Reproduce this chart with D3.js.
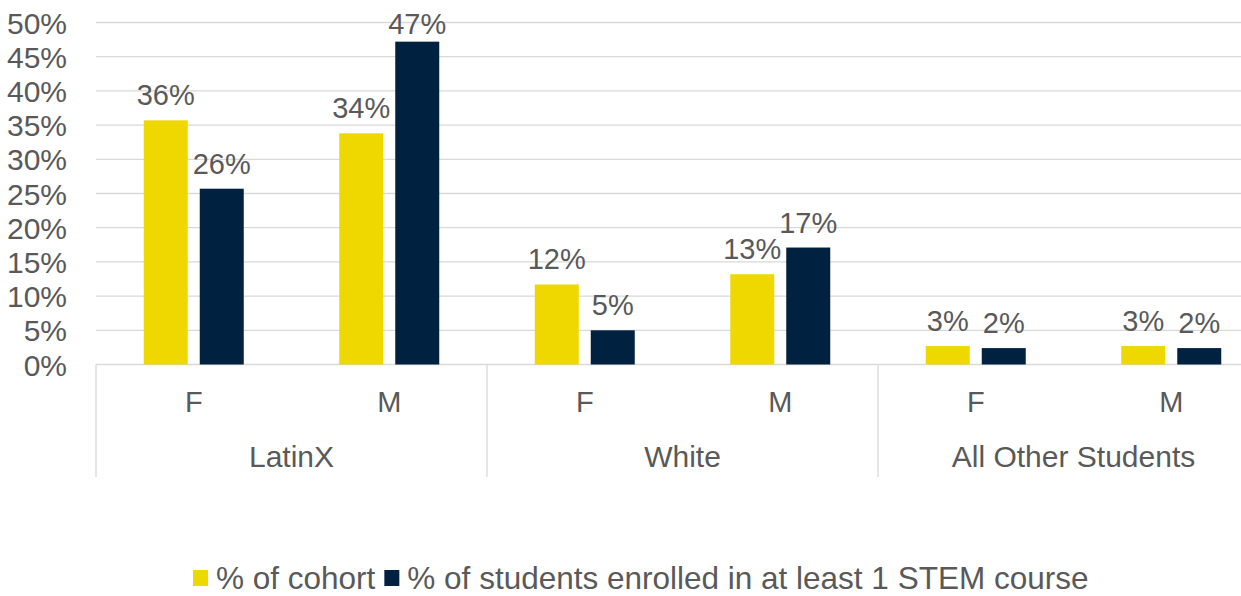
<!DOCTYPE html>
<html><head><meta charset="utf-8">
<script src="https://cdn.jsdelivr.net/npm/d3@7"></script>
<style>
html,body{margin:0;padding:0;background:#fff;}
text{font-family:"Liberation Sans",Arial,sans-serif;fill:#595959;}
</style></head>
<body><svg id="c" width="1241" height="596"></svg>
<script>
const groups = ["LatinX", "White", "All Other Students"];
const genders = ["F", "M"];
const seriesNames = ["% of cohort", "% of students enrolled in at least 1 STEM course"];
const cohort = [0.357, 0.338, 0.117, 0.132, 0.027, 0.027];
const stem   = [0.257, 0.472, 0.050, 0.171, 0.024, 0.024];
const yTicks = [0, 0.05, 0.10, 0.15, 0.20, 0.25, 0.30, 0.35, 0.40, 0.45, 0.50];
const colors = ["#EFD800", "#002240"];

(function () {
const svg = d3.select("#c");
const plotLeft = 96, plotRight = 1269, plotTop = 22.5, base = 364.5;
const y = d3.scaleLinear().domain([0, 0.5]).range([base, plotTop]);
const xg = d3.scaleBand().domain(groups).range([plotLeft, plotRight]);
const xs = d3.scaleBand().domain(genders).range([0, xg.bandwidth()]);
const pairW = 100;
const xser = d3.scaleBand().domain(seriesNames)
  .range([(xs.bandwidth() - pairW) / 2, (xs.bandwidth() + pairW) / 2])
  .paddingInner(12 / 56).paddingOuter(0);

// gridlines
svg.append("g").selectAll("line").data(yTicks).join("line")
  .attr("x1", plotLeft).attr("x2", 1241)
  .attr("y1", d => y(d)).attr("y2", d => y(d))
  .attr("stroke", "#d9d9d9").attr("stroke-width", 1.3);

// y axis labels
const yAxis = d3.axisLeft(y).tickValues(yTicks).tickFormat(d3.format(".0%")).tickSize(0).tickPadding(0);
const ya = svg.append("g").attr("transform", "translate(67,0)").call(yAxis);
ya.select(".domain").remove();
ya.selectAll("text").attr("font-size", 30).attr("fill", "#595959")
  .style("font-family", '"Liberation Sans", Arial, sans-serif').attr("dy", "0.35em");

// rows
const rows = [];
groups.forEach((g, gi) => genders.forEach((s, si) => {
  const i = gi * 2 + si;
  rows.push({g, s, vals: [cohort[i], stem[i]]});
}));

const fmt = d3.format(".0%");
rows.forEach(r => {
  const x0 = xg(r.g) + xs(r.s);
  seriesNames.forEach((sn, k) => {
    const v = r.vals[k];
    const bx = x0 + xser(sn);
    svg.append("rect").attr("x", bx).attr("y", y(v))
      .attr("width", xser.bandwidth()).attr("height", base - y(v))
      .attr("fill", colors[k]);
    svg.append("text").attr("x", bx + xser.bandwidth() / 2)
      .attr("y", Math.max(y(v) - 15, 34))
      .attr("text-anchor", "middle").attr("font-size", 29).text(fmt(v));
  });
  svg.append("text").attr("x", x0 + xs.bandwidth() / 2).attr("y", 412)
    .attr("text-anchor", "middle").attr("font-size", 29).text(r.s);
});

// group dividers and labels
groups.forEach(g => {
  svg.append("line").attr("x1", xg(g)).attr("x2", xg(g))
    .attr("y1", base).attr("y2", 477).attr("stroke", "#d9d9d9").attr("stroke-width", 1.3);
  svg.append("text").attr("x", xg(g) + xg.bandwidth() / 2).attr("y", 467)
    .attr("text-anchor", "middle").attr("font-size", 30).text(g);
});

// legend (laid out by measured text widths)
const lg = svg.append("g");
let lx = 193;
seriesNames.forEach((sn, k) => {
  lg.append("rect").attr("x", lx).attr("y", 570).attr("width", 15).attr("height", 16).attr("fill", colors[k]);
  const t = lg.append("text").attr("x", lx + 23).attr("y", 589).attr("font-size", 31.5).text(sn);
  lx = lx + 23 + t.node().getComputedTextLength() + 9;
});
})();
</script></body></html>
